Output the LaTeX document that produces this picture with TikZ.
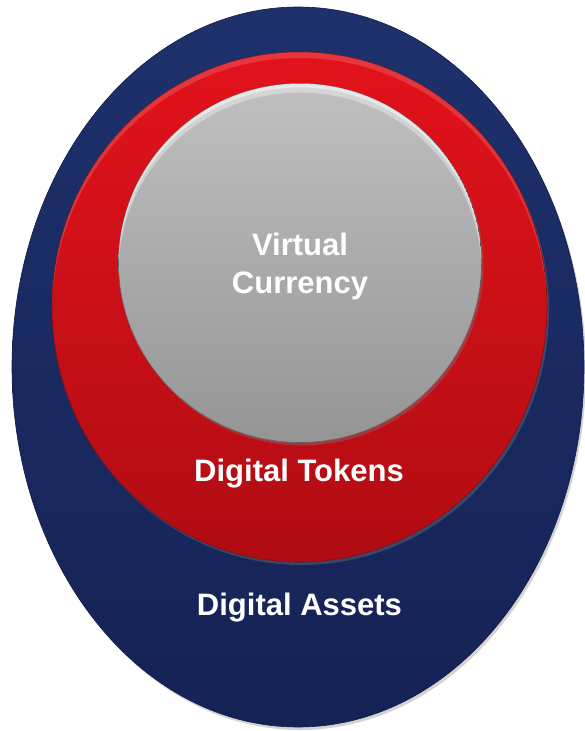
\documentclass[tikz,border=0pt]{standalone}
\usepackage{fontspec}
\setmainfont{Liberation Sans}
\usetikzlibrary{shapes.geometric,shadows}

\definecolor{assetblue}{HTML}{1E316C}
\definecolor{assetbluedark}{HTML}{152255}
\definecolor{tokenred}{HTML}{E3121B}
\definecolor{tokenreddark}{HTML}{B00C13}
\definecolor{coingray}{HTML}{C0C0C0}
\definecolor{coingraydark}{HTML}{959595}

\tikzset{
  ring/.style={ellipse, inner sep=0pt, drop shadow={opacity=0.35, shadow xshift=2pt, shadow yshift=-3pt}},
  label/.style={text=white, font=\bfseries\fontsize{31}{38}\selectfont}
}

\begin{document}
\begin{tikzpicture}[x=1pt, y=-1pt]
    \useasboundingbox (0,0) rectangle (585,731);

    \node[ring, draw=assetbluedark!80!black, line width=0.6pt, top color=assetblue, bottom color=assetbluedark,
          minimum width=572pt, minimum height=720pt] (assets) at (298,367) {};
    \node[ring, draw=tokenreddark!70!black, line width=0.6pt, top color=tokenred, bottom color=tokenreddark,
          minimum width=495pt, minimum height=510pt] (tokens) at (299.5,307) {};
    \node[ring, draw=gray!60!black, line width=0.6pt, top color=coingray, bottom color=coingraydark,
          minimum width=363pt, minimum height=359pt] (currency) at (300,263) {};

    % soft bevel along the top of the coin and the red ring
    \begin{scope}
        \clip (currency.center) ellipse [x radius=181.5pt, y radius=179.5pt];
        \fill[white, opacity=0.35, even odd rule] (currency.center) ellipse [x radius=181.5pt, y radius=179.5pt]
            (300,272) ellipse [x radius=181.5pt, y radius=179.5pt];
        \fill[white, opacity=0.45, even odd rule] (currency.center) ellipse [x radius=181.5pt, y radius=179.5pt]
            (300,267) ellipse [x radius=181.5pt, y radius=179.5pt];
    \end{scope}
    \begin{scope}
        \clip (tokens.center) ellipse [x radius=247.5pt, y radius=255pt];
        \fill[white, opacity=0.15, even odd rule] (tokens.center) ellipse [x radius=247.5pt, y radius=255pt]
            (299.5,313) ellipse [x radius=247.5pt, y radius=255pt];
    \end{scope}

    \node[label, align=center] (currencytext) at (300,266) {Virtual\\Currency};
    \node[label, anchor=base] (tokenstext) at (299,481) {Digital Tokens};
    \node[label, anchor=base] (assetstext) at (299.5,615) {Digital Assets};
\end{tikzpicture}
\end{document}
